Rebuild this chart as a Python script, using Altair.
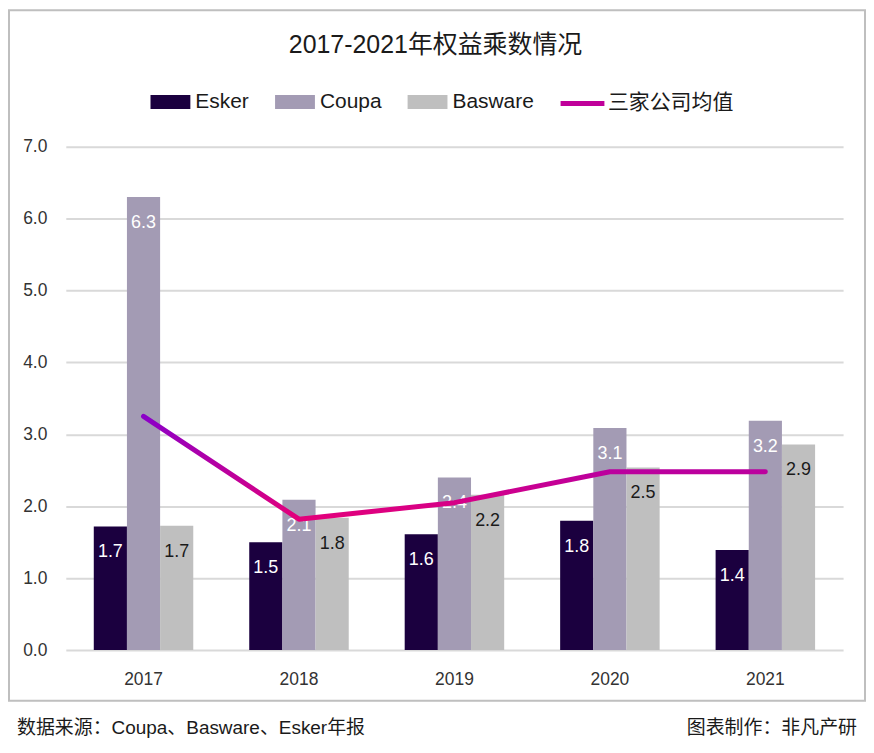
import altair as alt
import pandas as pd

years = ["2017", "2018", "2019", "2020", "2021"]
series_names = ["Esker", "Coupa", "Basware"]
esker = [1.72, 1.50, 1.61, 1.80, 1.39]
coupa = [6.30, 2.09, 2.40, 3.09, 3.19]
basware = [1.73, 1.84, 2.16, 2.54, 2.86]
avg_name = "三家公司均值"
avg = [3.25, 1.82, 2.05, 2.48, 2.48]
bar_colors = ["#1B003F", "#A39BB4", "#BFBFBF"]
y_ticks = [0, 1, 2, 3, 4, 5, 6, 7]

title_text = "2017-2021年权益乘数情况"
source_text = "数据来源：Coupa、Basware、Esker年报"
maker_text = "图表制作：非凡产研"

FONT = "Liberation Sans, Noto Sans CJK SC"

rows = []
for s, vals in zip(series_names, [esker, coupa, basware]):
    for y, v in zip(years, vals):
        rows.append({"year": y, "series": s, "value": v})
bars_df = pd.DataFrame(rows)
line_df = pd.DataFrame({"year": years, "value": avg, "name": [avg_name] * len(years)})

x_enc = alt.X("year:N", sort=years, title=None,
              scale=alt.Scale(paddingInner=0.36, paddingOuter=0.18),
              axis=alt.Axis(labelAngle=0, labelFontSize=17.5, labelColor="#333333",
                            labelPadding=21, domain=False, ticks=False, grid=False,
                            labelFont=FONT))
y_enc = alt.Y("value:Q", title=None,
              scale=alt.Scale(domain=[0, 7], nice=False),
              axis=alt.Axis(values=y_ticks, format=".1f", labelFontSize=17.5,
                            labelColor="#333333", labelPadding=19, domain=False,
                            ticks=False, gridColor="#D9D9D9", gridWidth=2,
                            labelFont=FONT))
xoff = alt.XOffset("series:N", sort=series_names,
                   scale=alt.Scale(paddingInner=0, paddingOuter=0))

rect_path = "M-1,-0.35H1V0.35H-1Z"

bars = alt.Chart(bars_df).mark_bar().encode(
    x=x_enc, y=y_enc, xOffset=xoff,
    color=alt.Color("series:N", sort=series_names,
                    scale=alt.Scale(domain=series_names, range=bar_colors),
                    legend=alt.Legend(orient="none", legendX=85, legendY=-65,
                                      direction="horizontal", title=None,
                                      symbolType=rect_path, symbolSize=1600,
                                      symbolStrokeWidth=0, symbolOpacity=1,
                                      labelFontSize=21, labelFont=FONT,
                                      labelColor="#1a1a1a", labelOffset=5,
                                      columnPadding=26)),
)

labels = alt.Chart(bars_df).mark_text(fontSize=18, baseline="middle", dy=26, font=FONT).encode(
    x=alt.X("year:N", sort=years), y="value:Q", xOffset=xoff,
    text=alt.Text("value:Q", format=".1f"),
    color=alt.condition(alt.datum.series == "Basware", alt.value("#1a1a1a"), alt.value("#FFFFFF")),
)

grad = alt.LinearGradient(gradient="linear",
                          stops=[alt.GradientStop(color="#8B00C8", offset=0),
                                 alt.GradientStop(color="#E4007A", offset=1)],
                          x1=0, x2=0, y1=0, y2=1)

line = alt.Chart(line_df).mark_line(strokeWidth=5, strokeCap="round", strokeJoin="round", color=grad).encode(
    x=alt.X("year:N", sort=years), y="value:Q",
    opacity=alt.Opacity("name:N", scale=alt.Scale(range=[1]),
                        legend=alt.Legend(orient="none", legendX=494, legendY=-68,
                                          title=None, symbolType="stroke",
                                          symbolSize=1936, symbolStrokeWidth=5,
                                          symbolStrokeColor="#C0009A",
                                          labelFontSize=21, labelFont=FONT,
                                          labelColor="#1a1a1a", labelOffset=1)),
)

deco = alt.Data(values=[{}])

border = alt.Chart(deco).mark_rect(fillOpacity=0, stroke="#BFBFBF", strokeWidth=2).encode(
    x=alt.value(-57), x2=alt.value(802), y=alt.value(-137), y2=alt.value(556))

title = alt.Chart(deco).mark_text(text=title_text, fontSize=25, font=FONT, color="#1a1a1a",
                                  align="center", baseline="middle").encode(
    x=alt.value(371), y=alt.value(-102))

source = alt.Chart(deco).mark_text(text=source_text, fontSize=19, font=FONT, color="#1a1a1a",
                                   align="left", baseline="middle").encode(
    x=alt.value(-49), y=alt.value(583))

maker = alt.Chart(deco).mark_text(text=maker_text, fontSize=19, font=FONT, color="#1a1a1a",
                                  align="right", baseline="middle").encode(
    x=alt.value(794), y=alt.value(583))

chart = alt.layer(border, bars, labels, line, title, source, maker).properties(
    width=780, height=505, padding=0, background="white"
).configure_view(stroke=None)

chart.save("out.html", embed_options={"renderer": "svg", "actions": False})
